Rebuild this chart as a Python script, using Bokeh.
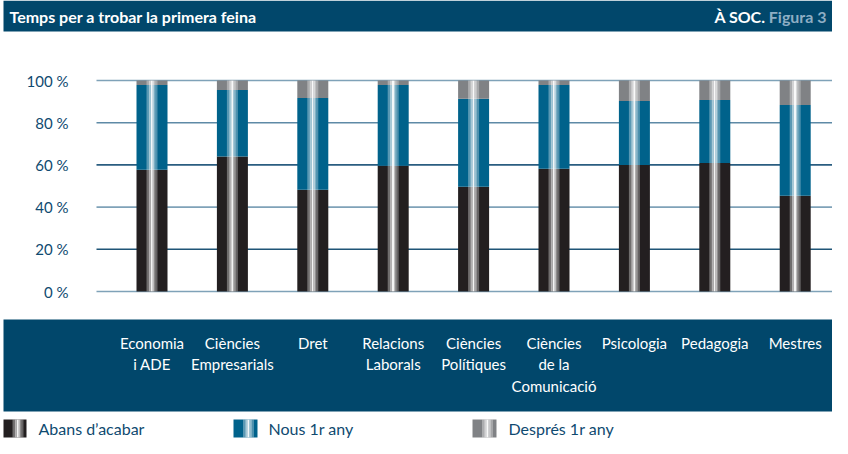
from bokeh.plotting import figure
from bokeh.models import ColumnDataSource, Range1d
from bokeh.core.properties import value
from bokeh.embed import file_html
from bokeh.resources import INLINE

# ---- data ----
categories = ["Economia\ni ADE", "Ciències\nEmpresarials", "Dret", "Relacions\nLaborals",
              "Ciències\nPolítiques", "Ciències\nde la\nComunicació", "Psicologia",
              "Pedagogia", "Mestres"]
abans = [57.7, 64.0, 48.2, 59.6, 49.6, 58.2, 60.0, 60.9, 45.4]
nous = [40.2, 31.5, 43.5, 38.3, 41.7, 39.7, 30.3, 29.9, 43.0]
despres = [2.1, 4.5, 8.3, 2.1, 8.7, 2.1, 9.7, 9.2, 11.6]
series = ["Abans d\u2019acabar", "Nous 1r any", "Després 1r any"]
tick_values = [0, 20, 40, 60, 80, 100]
tick_labels = ["0 %", "20 %", "40 %", "60 %", "80 %", "100 %"]

# ---- style ----
FONT = "Lato"
NAVY = "#01476b"
COLORS = ["#231f20", "#00628b", "#808285"]
TXT = "#0f4a70"
GRID_COLORS = ["#7fa2b8", "#1f5577", "#7fa2b8", "#2a5d80", "#5e8aa6", "#7fa2b8"]

W, H = 832, 438
PX = 80.4          # px per category step
PY = 2.11          # px per percent
X0 = -151.5 / PX
Y0 = -(H - 291) / PY


def dx(px):
    return X0 + px / PX


def dy(py):
    return Y0 + (H - py) / PY


p = figure(width=W, height=H, output_backend="svg", toolbar_location=None,
           x_range=Range1d(X0, X0 + W / PX), y_range=Range1d(Y0, Y0 + H / PY),
           min_border=0, outline_line_color=None, background_fill_color="white",
           border_fill_color="white")
p.axis.visible = False
p.grid.visible = False

# title bar
p.quad(left=[dx(3)], right=[dx(W)], top=[dy(0)], bottom=[dy(31)], fill_color=NAVY, line_color=None)
p.text(x=[dx(9)], y=[dy(16)], text=["Temps per a trobar la primera feina"],
       text_font=value(FONT), text_font_style="bold", text_font_size="16px",
       text_color="white", text_baseline="middle", text_align="left")
p.text(x=[dx(765)], y=[dy(16)], text=["À SOC."], text_font=value(FONT), text_font_style="bold",
       text_font_size="16px", text_color="white", text_baseline="middle", text_align="right")
p.text(x=[dx(826)], y=[dy(16)], text=["Figura 3"], text_font=value(FONT), text_font_style="bold",
       text_font_size="16px", text_color="#8eaec4", text_baseline="middle", text_align="right")

# grid lines + y labels
n = len(tick_values)
p.segment(x0=[dx(96)] * n, x1=[dx(W)] * n, y0=tick_values, y1=tick_values,
          line_color=GRID_COLORS, line_width=1.6)
p.text(x=[dx(68)] * n, y=tick_values, text=tick_labels, text_font=value(FONT),
       text_font_size="15px", text_color=TXT, text_align="right", text_baseline="middle")

# bars
xs = list(range(len(categories)))
src = ColumnDataSource(dict(x=xs, a=abans, b=nous, c=despres,
                            top=[a + b + c for a, b, c in zip(abans, nous, despres)]))
BW = 31 / PX
p.vbar_stack(["a", "b", "c"], x="x", width=BW, color=COLORS, line_color=None, source=src)

# vertical light stripes on each bar
stripes = [(-5.5, -3.2, 0.35), (-3.2, -1.2, 0.65), (-1.2, 0.8, 0.95),
           (0.8, 2.2, 0.7), (2.2, 3.5, 0.5), (3.5, 5.5, 0.3)]
for l, r, a in stripes:
    p.vbar(x=[x + (l + r) / 2 / PX for x in xs], width=(r - l) / PX, bottom=0, top=src.data["top"],
           fill_color="white", fill_alpha=a, line_color=None)

# category band
p.quad(left=[dx(3)], right=[dx(W)], top=[dy(319)], bottom=[dy(411)], fill_color=NAVY, line_color=None)
p.text(x=xs, y=[dy(333)] * len(xs), text=categories, text_font=value(FONT), text_font_size="15px",
       text_color="white", text_align="center", text_baseline="top", text_line_height=1.2)

# legend
sw_left = [3, 233, 472]
sw_right = [26, 257, 496]
txt_left = [38, 268, 508]
for i in range(3):
    p.quad(left=[dx(sw_left[i])], right=[dx(sw_right[i])], top=[dy(419)], bottom=[dy(437)],
           fill_color=COLORS[i], line_color=None)
    c = (sw_left[i] + sw_right[i]) / 2 + 3
    for l, r, a in stripes:
        p.quad(left=[dx(c + l)], right=[dx(c + r)], top=[dy(419)], bottom=[dy(437)],
               fill_color="white", fill_alpha=a, line_color=None)
    p.text(x=[dx(txt_left[i])], y=[dy(428)], text=[series[i]], text_font=value(FONT),
           text_font_size="16px", text_color=TXT, text_align="left", text_baseline="middle")

open("out.html", "w").write(file_html(p, INLINE))
